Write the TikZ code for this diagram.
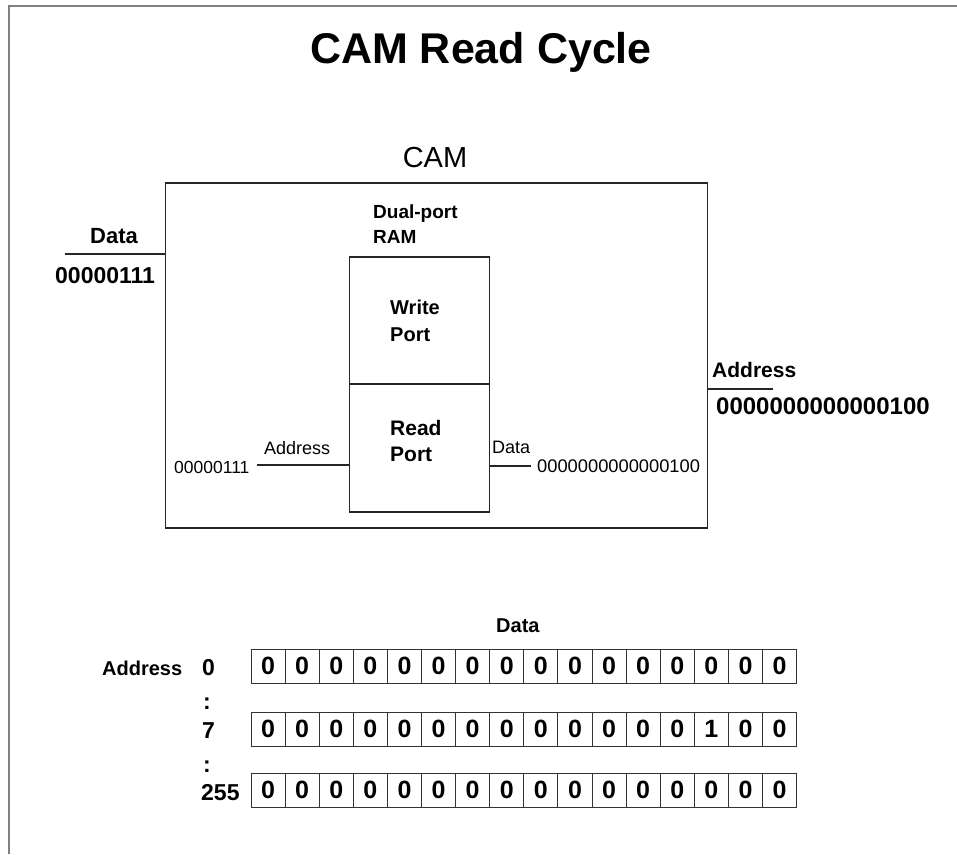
\documentclass[tikz,border=0pt]{standalone}
\usepackage{fontspec}
\setmainfont{Liberation Sans}
\newcommand{\fs}[1]{\fontsize{#1}{#1}\selectfont}
\begin{document}
\begin{tikzpicture}[x=1pt,y=-1pt,
  box/.style={draw=black!85, line width=1.3pt, inner sep=0pt},
  wire/.style={draw=black!85, line width=1.1pt},
  frame/.style={draw=black!50, line width=2pt},
  cell/.style={draw=black!80, line width=0.9pt, minimum width=34.1pt, minimum height=34pt, inner sep=0pt, font=\fs{25}},
  lbl/.style={inner sep=0pt, anchor=base west},
]
\useasboundingbox (0,0) rectangle (957,854);
\draw[frame] (957,6) -- (9,6) -- (9,854);

% title
\node[inner sep=0pt, anchor=base] (title) at (481,63) {\fs{43}\bfseries CAM Read Cycle};
\node[inner sep=0pt, anchor=base] (camlbl) at (435,167) {\fs{29}CAM};

% CAM box and RAM
\node[box, minimum width=542pt, minimum height=345pt] (cam) at (436.5,355.5) {};
\node[box, minimum width=140pt, minimum height=127pt] (wp) at (419.5,320.5) {};
\node[box, minimum width=140pt, minimum height=128pt] (rp) at (419.5,448) {};

\node[lbl] (dp1) at (373,218) {\fs{19}\bfseries Dual-port};
\node[lbl] (dp2) at (373,243) {\fs{19}\bfseries RAM};
\node[lbl] (wp1) at (390,314) {\fs{20}\bfseries Write};
\node[lbl] (wp2) at (390,341) {\fs{20}\bfseries Port};
\node[lbl] (rp1) at (390,435) {\fs{21}\bfseries Read};
\node[lbl] (rp2) at (390,461) {\fs{21}\bfseries Port};

% inner wires
\coordinate (ain) at (257,465);
\draw[wire] (ain) -- (ain -| rp.west);
\node[lbl] (addrin) at (264,454) {\fs{18}Address};
\node[lbl] (addrval) at (174,473) {\fs{17.5}00000111};
\coordinate (dout) at (531,466);
\draw[wire] (rp.east |- dout) -- (dout);
\node[lbl] (dataout) at (492,453) {\fs{18}Data};
\node[lbl] (dataval) at (537,472) {\fs{18.3}0000000000000100};

% outer wires
\coordinate (din) at (65,254);
\draw[wire] (din) -- (din -| cam.west);
\node[lbl] (datain) at (90,243) {\fs{22}\bfseries Data};
\node[lbl] (datainval) at (55,283) {\fs{23}\bfseries 00000111};
\coordinate (aout) at (773,389);
\draw[wire] (cam.east |- aout) -- (aout);
\node[lbl] (addrout) at (712,377) {\fs{21}\bfseries Address};
\node[lbl] (addroutval) at (716,414) {\fs{24}\bfseries 0000000000000100};

% table
\node[lbl] (tdata) at (496,632) {\fs{20}\bfseries Data};
\node[lbl] (taddr) at (102,675) {\fs{20}\bfseries Address};
\node[lbl] (r0) at (202,675) {\fs{23}\bfseries 0};
\node[lbl] (col1) at (203,709) {\fs{23}\bfseries :};
\node[lbl] (r7) at (202,738) {\fs{23}\bfseries 7};
\node[lbl] (col2) at (203,772) {\fs{23}\bfseries :};
\node[lbl] (r255) at (201,800) {\fs{23}\bfseries 255};

\foreach \r/\y in {1/666, 2/729, 3/790} {
  \foreach \i in {1,...,16} {
    \node[cell] (c\r-\i) at ({251+34.1*(\i-0.5)},\y)
      {\bfseries\ifnum\r=2 \ifnum\i=14 1\else 0\fi\else 0\fi};
  }
}
\end{tikzpicture}
\end{document}
